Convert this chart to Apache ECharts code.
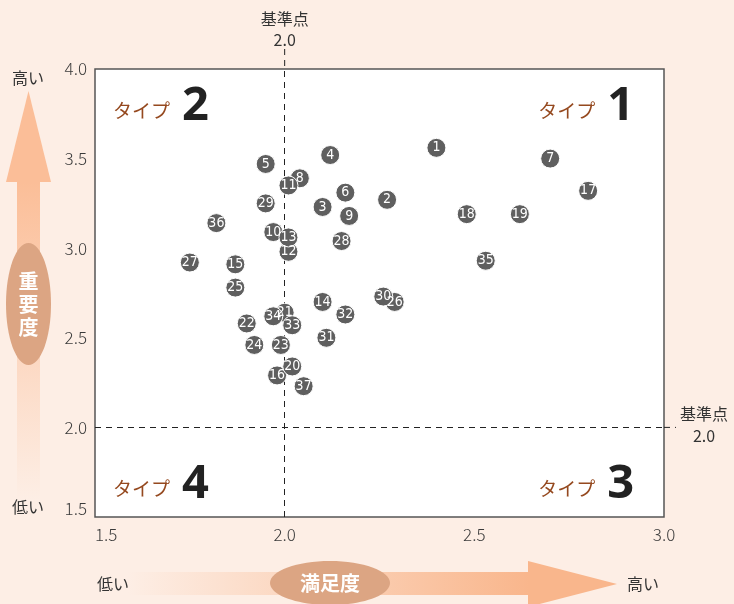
<!DOCTYPE html>
<html><head><meta charset="utf-8">
<script src="https://cdn.jsdelivr.net/npm/echarts@6/dist/echarts.min.js"></script>
<style>html,body{margin:0;padding:0;background:#fdeee5;}#c{width:734px;height:604px;}</style>
</head><body><div id="c"></div>
<script>
// ---- data ----
var pointIds = [1,2,3,4,5,6,7,8,9,10,11,12,13,14,15,16,17,18,19,20,21,22,23,24,25,26,27,28,29,30,31,32,33,34,35,36,37];
var satisfaction = [2.40,2.27,2.10,2.12,1.95,2.16,2.70,2.04,2.17,1.97,2.01,2.01,2.01,2.10,1.87,1.98,2.80,2.48,2.62,2.02,2.00,1.90,1.99,1.92,1.87,2.29,1.75,2.15,1.95,2.26,2.11,2.16,2.02,1.97,2.53,1.82,2.05];
var importance   = [3.56,3.27,3.23,3.52,3.47,3.31,3.50,3.39,3.18,3.09,3.35,2.98,3.06,2.70,2.91,2.29,3.32,3.19,3.19,2.34,2.64,2.58,2.46,2.46,2.78,2.70,2.92,3.04,3.25,2.73,2.50,2.63,2.57,2.62,2.93,3.14,2.23];
var xTicks = [1.5, 2.0, 2.5, 3.0];
var yTicks = [1.5, 2.0, 2.5, 3.0, 3.5, 4.0];
var baseX = 2.0, baseY = 2.0;
var quadrants = [
  {num:'1', x:3.0, y:4.0, pos:'tr'},
  {num:'2', x:1.5, y:4.0, pos:'tl'},
  {num:'3', x:3.0, y:1.5, pos:'br'},
  {num:'4', x:1.5, y:1.5, pos:'bl'}
];

var points = pointIds.map(function(id,i){ return {value:[satisfaction[i], importance[i]], name:String(id)}; });

var JP = '"Noto Sans CJK JP", "Noto Sans", sans-serif';
var chart = echarts.init(document.getElementById('c'));
chart.setOption({
  backgroundColor: '#fdeee5',
  animation: false,
  grid: {left:95, right:70, top:69, bottom:87, show:true, backgroundColor:'#fff', borderColor:'#555', borderWidth:1.5},
  xAxis: {type:'value', min:xTicks[0], max:xTicks[xTicks.length-1], interval:0.5,
    axisLine:{show:false}, axisTick:{show:false}, splitLine:{show:false},
    axisLabel:{formatter:function(v){return v.toFixed(1);}, color:'#3a3a3a', fontSize:17, fontFamily:JP, fontWeight:300, margin:9, alignMinLabel:'left'}},
  yAxis: {type:'value', min:yTicks[0], max:yTicks[yTicks.length-1], interval:0.5,
    axisLine:{show:false}, axisTick:{show:false}, splitLine:{show:false},
    axisLabel:{formatter:function(v){return v.toFixed(1);}, color:'#3a3a3a', fontSize:17, fontFamily:JP, fontWeight:300, margin:8, verticalAlignMinLabel:'bottom'}},
  series: [{
    type:'scatter', data: points, symbolSize:19,
    itemStyle:{color:'#5f5f5f', borderColor:'#fff', borderWidth:1, opacity:1},
    label:{show:true, position:'inside', formatter:'{b}', color:'#fff', fontSize:14, fontFamily:'"Liberation Sans Narrow", "DejaVu Sans Condensed", sans-serif'},
    markLine:{silent:true, symbol:'none', label:{show:false},
      lineStyle:{color:'#222', width:1, type:[6,5]},
      data:[{xAxis:baseX},{yAxis:baseY}]},
    z:5
  }]
});

function px(x,y){ return chart.convertToPixel({gridIndex:0},[x,y]); }
var pTop = px(baseX, yTicks[yTicks.length-1]);
var pRight = px(xTicks[xTicks.length-1], baseY);
var g = [];
// extensions of reference lines
g.push({type:'line', shape:{x1:pTop[0], y1:pTop[1]-20, x2:pTop[0], y2:pTop[1]}, style:{stroke:'#222', lineWidth:1, lineDash:[6,5]}});
g.push({type:'line', shape:{x1:pRight[0], y1:pRight[1], x2:pRight[0]+12, y2:pRight[1]}, style:{stroke:'#222', lineWidth:1, lineDash:[6,5]}});
g.push({type:'text', x:pTop[0], y:pTop[1]-40, style:{text:'基準点\n'+baseX.toFixed(1), font:'16px '+JP, fill:'#333', align:'center', verticalAlign:'middle', lineHeight:21}});
g.push({type:'text', x:pRight[0]+40, y:pRight[1]-2, style:{text:'基準点\n'+baseY.toFixed(1), font:'16px '+JP, fill:'#333', align:'center', verticalAlign:'middle', lineHeight:22}});

// quadrant labels
quadrants.forEach(function(q){
  var p = px(q.x, q.y);
  var left = q.pos[1]==='l';
  var top = q.pos[0]==='t';
  var xx = left ? p[0]+18 : p[0]-30;
  var yy = top ? p[1]+38 : p[1]-32;
  g.push({type:'text', x:xx, y:yy, style:{
    text:'{a|タイプ}{b|'+q.num+'}', align:left?'left':'right', verticalAlign:'middle',
    rich:{a:{fontSize:19, fill:'#95491f', fontFamily:JP, padding:[8,12,0,0]}, b:{fontSize:47, fontWeight:'bold', fill:'#222', fontFamily:'"Open Sans", "DejaVu Sans", sans-serif'}}
  }});
});

// vertical arrow (importance)
g.push({type:'polygon', shape:{points:[[17,182],[40,182],[40,500],[17,500]]},
  style:{fill:new echarts.graphic.LinearGradient(0,0,0,1,[{offset:0,color:'#fbbe98'},{offset:1,color:'#fdeee5'}])}});
g.push({type:'polygon', shape:{points:[[6,182],[51,182],[28.5,91]]}, style:{fill:'#fbbe98'}});
g.push({type:'ellipse', shape:{cx:28.5, cy:304, rx:22.5, ry:61}, style:{fill:'#dca583'}});
g.push({type:'text', x:28.5, y:304, style:{text:'重\n要\n度', font:'bold 20px '+JP, fill:'#fff', align:'center', verticalAlign:'middle', lineHeight:23}});
g.push({type:'text', x:28, y:78, style:{text:'高い', font:'16px '+JP, fill:'#333', align:'center', verticalAlign:'middle'}});
g.push({type:'text', x:28, y:507, style:{text:'低い', font:'16px '+JP, fill:'#333', align:'center', verticalAlign:'middle'}});

// horizontal arrow (satisfaction)
g.push({type:'polygon', shape:{points:[[128,572],[529,572],[529,595],[128,595]]},
  style:{fill:new echarts.graphic.LinearGradient(0,0,1,0,[{offset:0,color:'#fdeee5'},{offset:1,color:'#f9b68c'}])}});
g.push({type:'polygon', shape:{points:[[528,561],[528,607],[617,584]]}, style:{fill:'#f9b68c'}});
g.push({type:'ellipse', shape:{cx:330, cy:583, rx:60, ry:22}, style:{fill:'#dca583'}});
g.push({type:'text', x:330, y:583, style:{text:'満足度', font:'bold 20px '+JP, fill:'#fff', align:'center', verticalAlign:'middle'}});
g.push({type:'text', x:113, y:584, style:{text:'低い', font:'16px '+JP, fill:'#333', align:'center', verticalAlign:'middle'}});
g.push({type:'text', x:643, y:584, style:{text:'高い', font:'16px '+JP, fill:'#333', align:'center', verticalAlign:'middle'}});

chart.setOption({graphic:g});
</script></body></html>
